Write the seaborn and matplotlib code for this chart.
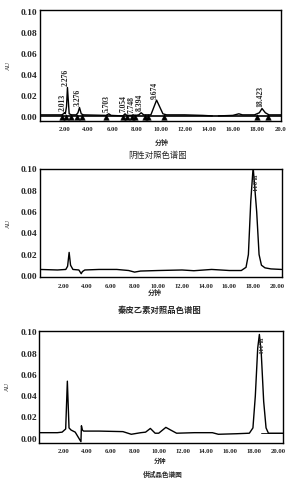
import numpy as np
import pandas as pd
import matplotlib
matplotlib.use("Agg")
import matplotlib.pyplot as plt
import seaborn as sns

sns.set_style("white")
plt.rcParams['font.family'] = ['Liberation Serif', 'Noto Sans CJK SC', 'DejaVu Sans']

# ---------------- data ----------------
# Panel 1: negative control (two segments, gap near 14.5 min)
neg_t1 = [0, 1.8, 1.95, 2.013, 2.1, 2.2, 2.276, 2.42, 2.6, 3.0, 3.15, 3.276, 3.42, 3.6,
          5.5, 5.703, 5.9, 6.9, 7.054, 7.2, 7.6, 7.748, 7.9, 8.2, 8.394, 8.6, 9.2,
          9.674, 10.2, 10.5, 12.0, 13.5, 14.3]
neg_y1 = [0.002, 0.002, 0.003, 0.004, 0.003, 0.010, 0.028, 0.003, 0.002, 0.002, 0.004,
          0.009, 0.003, 0.002, 0.0015, 0.003, 0.0015, 0.001, 0.003, 0.0015, 0.0015,
          0.002, 0.0015, 0.002, 0.004, 0.002, 0.002, 0.016, 0.003, 0.002, 0.002,
          0.0015, 0.001]
neg_t2 = [14.8, 16.0, 16.5, 16.8, 17.8, 18.2, 18.423, 18.7, 19.0, 20.0]
neg_y2 = [0.001, 0.0015, 0.003, 0.002, 0.002, 0.004, 0.008, 0.004, 0.002, 0.002]
neg_peak_labels = ['2.013', '2.276', '3.276', '5.703', '7.054', '7.748', '8.394', '9.674', '18.423']
neg_peak_t = [2.013, 2.276, 3.276, 5.703, 7.054, 7.748, 8.394, 9.674, 18.423]
neg_peak_h = [0.004, 0.028, 0.009, 0.003, 0.003, 0.002, 0.004, 0.016, 0.008]
neg_mark_t = [1.85, 2.15, 2.55, 3.05, 3.5, 5.5, 6.9, 7.25, 7.65, 7.9, 8.7, 8.95, 10.3, 18.0, 18.9]

# Panel 2: esculetin reference
ref_t = [0, 1.5, 2.2, 2.35, 2.48, 2.6, 2.8, 3.3, 3.5, 3.6, 3.8, 5, 6.5, 7.5, 8.0, 8.5,
         10, 12, 13, 14.5, 16, 17.0, 17.4, 17.6, 17.8, 18.0, 18.3, 18.5, 18.7, 19.0,
         19.5, 20.4]
ref_y = [0.006, 0.0055, 0.006, 0.009, 0.022, 0.01, 0.006, 0.0055, 0.002, 0.004, 0.0055,
         0.006, 0.006, 0.005, 0.0035, 0.0045, 0.005, 0.0055, 0.0048, 0.006, 0.005,
         0.005, 0.008, 0.02, 0.07, 0.102, 0.06, 0.02, 0.01, 0.0075, 0.0065, 0.006]
ref_peak_label = '18.044'
ref_peak_t = 18.0

# Panel 3: sample
smp_t = [0, 1.5, 1.9, 2.2, 2.34, 2.48, 2.65, 3.0, 3.48, 3.52, 3.6, 3.7, 5, 7, 7.7, 8.5,
         8.9, 9.3, 9.7, 10.0, 10.6, 11.0, 11.5, 13, 14.5, 15.0, 16.5, 17.6, 17.9, 18.1,
         18.3, 18.44, 18.6, 18.8, 19.0, 19.2, 20.4]
smp_y = [0.0055, 0.0055, 0.006, 0.009, 0.054, 0.01, 0.008, 0.006, -0.003, 0.012, 0.008,
         0.007, 0.007, 0.0065, 0.004, 0.0055, 0.006, 0.0095, 0.005, 0.005, 0.0105, 0.008,
         0.005, 0.0055, 0.0055, 0.004, 0.0045, 0.005, 0.01, 0.04, 0.085, 0.098, 0.08,
         0.035, 0.01, 0.005, 0.005]
smp_peak_label = '18.441'
smp_peak_t = 18.44

yticks = [0.00, 0.02, 0.04, 0.06, 0.08, 0.10]
ytick_labels = ['0.00', '0.02', '0.04', '0.06', '0.08', '0.10']
xticks = [2, 4, 6, 8, 10, 12, 14, 16, 18, 20]
xtick_labels1 = ['2.00', '4.00', '6.00', '8.00', '10.00', '12.00', '14.00', '16.00', '18.00', '20.0']
xtick_labels23 = ['2.00', '4.00', '6.00', '8.00', '10.00', '12.00', '14.00', '16.00', '18.00', '20.00']
titles = ['阴性对照色谱图', '秦皮乙素对照品色谱图', '供试品色谱图']
xlabel = '分钟'
ylabel = 'AU'

# ---------------- figure ----------------
fig = plt.figure(figsize=(2.9, 4.8), dpi=100)
ax1 = fig.add_axes([0.138, 0.748, 0.831, 0.231])
ax2 = fig.add_axes([0.137, 0.422, 0.834, 0.226])
ax3 = fig.add_axes([0.136, 0.078, 0.839, 0.233])

cjk = ['Noto Sans CJK SC', 'DejaVu Sans']

def style(ax, xlim, ylim, xl):
    ax.set_xlim(*xlim)
    ax.set_ylim(*ylim)
    ax.set_yticks(yticks)
    ax.set_yticklabels(ytick_labels, fontsize=6.8, fontweight='bold')
    ax.set_xticks(xticks)
    ax.set_xticklabels(xl, fontsize=4.8, fontweight='bold')
    ax.tick_params(axis='y', length=0, pad=1.8)
    ax.tick_params(axis='x', length=0, pad=4.5)
    for s in ax.spines.values():
        s.set_color('black')
        s.set_linewidth(1.0)
    ax.set_xlabel('')
    ax.set_ylabel('')
    if ax.get_legend():
        ax.get_legend().remove()

# Panel 1
df1 = pd.DataFrame({'t': neg_t1 + neg_t2, 'y': neg_y1 + neg_y2,
                    'seg': [0] * len(neg_t1) + [1] * len(neg_t2)})
sns.lineplot(data=df1, x='t', y='y', units='seg', estimator=None, color='black',
             lw=1.0, ax=ax1, sort=False)
ax1.axhline(0.0005, color='black', lw=1.2)
dfm = pd.DataFrame({'t': neg_mark_t, 'y': [0.0] * len(neg_mark_t)})
sns.scatterplot(data=dfm, x='t', y='y', marker='^', s=16, color='black',
                edgecolor='black', ax=ax1, zorder=5)
for lab, t, h in zip(neg_peak_labels, neg_peak_t, neg_peak_h):
    ax1.text(t - 0.15, h + 0.0015, lab, rotation=90, ha='center', va='bottom',
             fontsize=5.5, fontweight='bold')
style(ax1, (0, 20.0), (-0.0038, 0.1016), xtick_labels1)

# Panel 2
df2 = pd.DataFrame({'t': ref_t, 'y': ref_y})
sns.lineplot(data=df2, x='t', y='y', color='black', lw=1.0, ax=ax2)
ax2.text(ref_peak_t, 0.096, ref_peak_label, rotation=270, ha='center', va='top',
         fontsize=4.5, fontweight='bold')
style(ax2, (0, 20.4), (-0.0015, 0.1003), xtick_labels23)

# Panel 3
df3 = pd.DataFrame({'t': smp_t, 'y': smp_y})
sns.lineplot(data=df3, x='t', y='y', color='black', lw=1.0, ax=ax3)
ax3.plot([18.6, 20.4], [0.005, 0.005], color='black', lw=0.6)
ax3.text(smp_peak_t, 0.096, smp_peak_label, rotation=270, ha='center', va='top',
         fontsize=4.5, fontweight='bold')
style(ax3, (0, 20.4), (-0.0038, 0.1015), xtick_labels23)

# Axis labels & titles
for ax in (ax1, ax2, ax3):
    ax.text(-0.13, 0.5, ylabel, transform=ax.transAxes, rotation=90, ha='center',
            va='center', fontsize=4.5)

fig.text(162 / 290, 1 - 142 / 480, xlabel, ha='center', va='center', fontsize=5,
         family=cjk, fontweight='bold')
fig.text(155 / 290, 1 - 292 / 480, xlabel, ha='center', va='center', fontsize=5,
         family=cjk, fontweight='bold')
fig.text(160 / 290, 1 - 461 / 480, xlabel, ha='center', va='center', fontsize=4.5,
         family=cjk, fontweight='bold')

fig.text(158 / 290, 1 - 155 / 480, titles[0], ha='center', va='center', fontsize=6,
         family=cjk)
fig.text(160 / 290, 1 - 310 / 480, titles[1], ha='center', va='center', fontsize=6,
         family=cjk, fontweight='bold')
fig.text(163 / 290, 1 - 474 / 480, titles[2], ha='center', va='center', fontsize=4.8,
         family=cjk, fontweight='bold')

fig.savefig('out.png', dpi=100)
